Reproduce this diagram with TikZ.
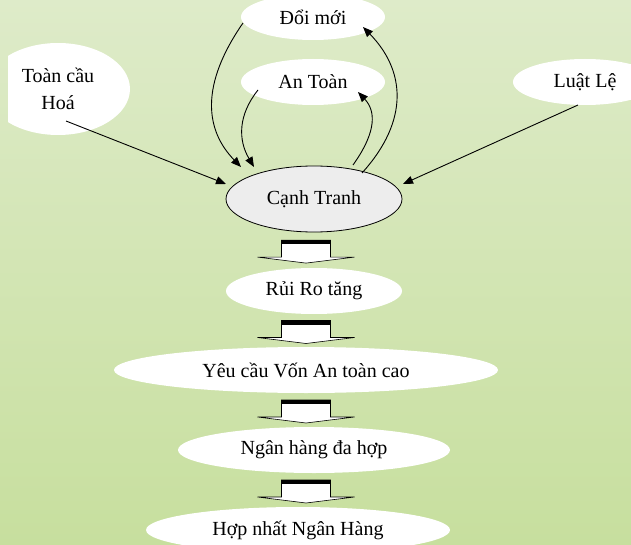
\documentclass[tikz,border=0pt]{standalone}
\usepackage{fontspec}
\setmainfont{Liberation Serif}
\usetikzlibrary{shapes,arrows.meta,calc}
\definecolor{bgtop}{RGB}{222,235,201}
\definecolor{bgbot}{RGB}{199,223,158}

\begin{document}
\begin{tikzpicture}[x=1pt,y=-1pt,>={Triangle[length=10pt,width=8pt]}]
\tikzstyle{oval}=[ellipse,fill=white,inner sep=0pt,font=\fontsize{20}{27}\selectfont,minimum width=#1,minimum height=46pt]
\tikzstyle{link}=[->,line width=0.9pt]
\tikzset{blockdown/.pic={
  \draw[fill=white,line width=0.6pt] (-24.5,-10) -- (-24.5,7) -- (-48.5,7) -- (0,13) -- (48.5,7) -- (24.5,7) -- (24.5,-10) -- cycle;
  \fill (-25,-10) rectangle (25,-6);
}}
\useasboundingbox (0,0) rectangle (631,545);
\shade[top color=bgtop,bottom color=bgbot] (0,0) rectangle (631,545);

\begin{scope}
\clip (8,0) rectangle (631,545);
\node[oval=144pt,minimum height=92pt,align=center](G) at (58,89) {Toàn cầu\\Hoá};
\end{scope}
\node[oval=144pt](D) at (313,17) {Đổi mới};
\node[oval=144pt](A) at (313,82) {An Toàn};
\node[oval=144pt](L) at (585,82) {Luật Lệ};
\node[oval=176pt,minimum height=66pt,draw,line width=0.8pt,fill=black!7](CT) at (314,199) {Cạnh Tranh};
\node[oval=176pt](R) at (314,291) {Rủi Ro tăng};
\node[oval=384pt](V) at (306,370) {Yêu cầu Vốn An toàn cao};
\node[oval=272pt](N) at (314,450) {Ngân hàng đa hợp};
\node[oval=304pt](H) at (298,530) {Hợp nhất Ngân Hàng};

\draw[link] ([shift={(8,32)}]G.center) -- ([shift={(-88,-15)}]CT.center);
\draw[link] ([shift={(-7,23)}]L.center) -- ([shift={(89,-15)}]CT.center);
\draw[link] ([shift={(-70,6)}]D.center) .. controls +(-43,62) and +(-36,-37) .. ([shift={(-73,-32)}]CT.center);
\draw[link] ([shift={(-55,8)}]A.center) .. controls +(-20,25) and +(-16,-27) .. ([shift={(-60,-32)}]CT.center);
\draw[link] ([shift={(39,-34)}]CT.center) .. controls +(25,-35) and +(17,18) .. ([shift={(45,10)}]A.center);
\draw[link] ([shift={(48,-26)}]CT.center) .. controls +(48,-53) and +(42,43) .. ([shift={(50,10)}]D.center);

\foreach \a/\b in {CT/R,R/V,V/N,N/H}{
  \coordinate (m) at ($(\a.south)!.5!(\b.north)$);
  \pic at (m -| V) {blockdown};
}
\end{tikzpicture}
\end{document}
